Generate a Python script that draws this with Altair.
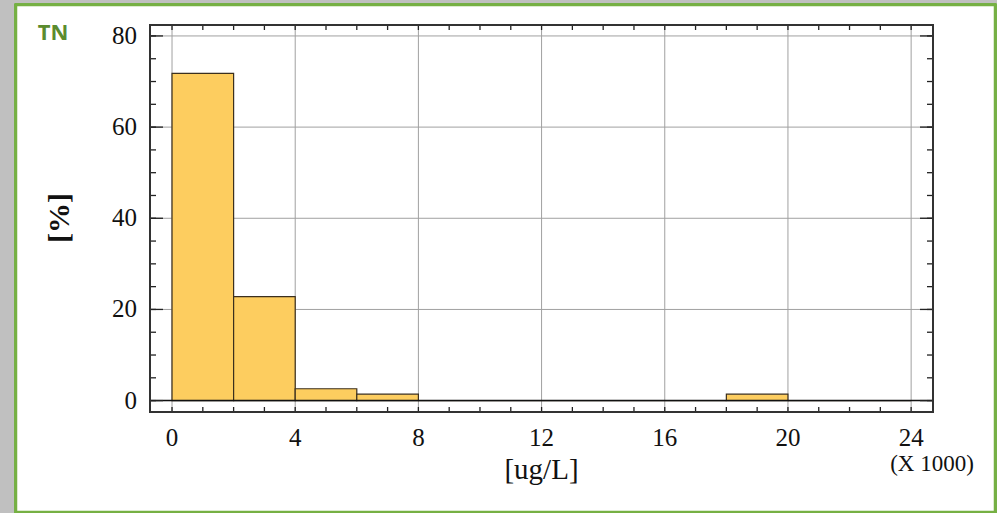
import altair as alt
import pandas as pd

# Histogram of TN concentration (bins of 2000 ug/L, axis in thousands)
bin_start = [0, 2, 4, 6, 8, 10, 12, 14, 16, 18, 20, 22]
bin_end = [2, 4, 6, 8, 10, 12, 14, 16, 18, 20, 22, 24]
percent = [71.8, 22.8, 2.6, 1.4, 0, 0, 0, 0, 0, 1.4, 0, 0]

x_ticks = [0, 4, 8, 12, 16, 20, 24]
y_ticks = [0, 20, 40, 60, 80]
x_minor = list(range(0, 25))
y_minor = list(range(0, 81, 5))

W, H = 783, 387
SERIF = "Liberation Serif"

bars = pd.DataFrame({"start": bin_start, "end": bin_end, "pct": percent})
xgrid = pd.DataFrame({"v": x_ticks, "label": [str(v) for v in x_ticks]})
ygrid = pd.DataFrame({"v": y_ticks, "label": [str(v) for v in y_ticks]})
xminor = pd.DataFrame({"v": x_minor})
yminor = pd.DataFrame({"v": y_minor})

xs = alt.Scale(domain=[-0.715, 24.71], nice=False, zero=False)
ys = alt.Scale(domain=[-2.5, 82.4], nice=False, zero=False)

# white panel with green border
panel = alt.Chart(bars).mark_rect(fill="white", stroke="#76b043", strokeWidth=2.5).encode(
    x=alt.value(-134), x2=alt.value(845), y=alt.value(-20), y2=alt.value(487)
)

vgrid = alt.Chart(xgrid).mark_rule(color="#a0a0a0", strokeWidth=1).encode(
    x=alt.X("v:Q", scale=xs, axis=None)
)
hgrid = alt.Chart(ygrid).mark_rule(color="#a0a0a0", strokeWidth=1).encode(
    y=alt.Y("v:Q", scale=ys, axis=None)
)

hist = alt.Chart(bars).mark_rect(fill="#fdcd5f", stroke="#3b2f1e", strokeWidth=1.2).encode(
    x=alt.X("start:Q", scale=xs, axis=None),
    x2="end:Q",
    y=alt.Y("pct:Q", scale=ys, axis=None),
    y2=alt.datum(0),
)

zero_line = alt.Chart(pd.DataFrame({"v": [0]})).mark_rule(color="#111", strokeWidth=1.5).encode(
    y=alt.Y("v:Q", scale=ys, axis=None)
)

# inward tick marks on all four sides
tick_col = "#222"
xt_bottom = alt.Chart(xminor).mark_rule(color=tick_col, strokeWidth=1.3).encode(
    x=alt.X("v:Q", scale=xs, axis=None), y=alt.value(H - 5), y2=alt.value(H)
)
xt_top = alt.Chart(xminor).mark_rule(color=tick_col, strokeWidth=1.3).encode(
    x=alt.X("v:Q", scale=xs, axis=None), y=alt.value(0), y2=alt.value(5)
)
yt_left = alt.Chart(yminor).mark_rule(color=tick_col, strokeWidth=1.3).encode(
    y=alt.Y("v:Q", scale=ys, axis=None), x=alt.value(0), x2=alt.value(6)
)
yt_right = alt.Chart(yminor).mark_rule(color=tick_col, strokeWidth=1.3).encode(
    y=alt.Y("v:Q", scale=ys, axis=None), x=alt.value(W - 6), x2=alt.value(W)
)
yt_left_major = alt.Chart(ygrid).mark_rule(color=tick_col, strokeWidth=1.3).encode(
    y=alt.Y("v:Q", scale=ys, axis=None), x=alt.value(0), x2=alt.value(13)
)
yt_right_major = alt.Chart(ygrid).mark_rule(color=tick_col, strokeWidth=1.3).encode(
    y=alt.Y("v:Q", scale=ys, axis=None), x=alt.value(W - 13), x2=alt.value(W)
)

frame = alt.Chart(bars).mark_rect(fill=None, stroke="#333", strokeWidth=1.5).encode(
    x=alt.value(0), x2=alt.value(W), y=alt.value(0), y2=alt.value(H)
)

# tick labels
x_labels = alt.Chart(xgrid).mark_text(font=SERIF, fontSize=25, color="#111",
                                      baseline="middle", align="center").encode(
    x=alt.X("v:Q", scale=xs, axis=None), y=alt.value(H + 26), text="label:N"
)
y_labels = alt.Chart(ygrid).mark_text(font=SERIF, fontSize=25, color="#111",
                                      baseline="middle", align="right").encode(
    y=alt.Y("v:Q", scale=ys, axis=None), x=alt.value(-13), text="label:N"
)

one = pd.DataFrame({"t": [0]})
x_title = alt.Chart(one).mark_text(text="[ug/L]", font=SERIF, fontSize=29, color="#111",
                                   baseline="middle").encode(
    x=alt.value(W / 2), y=alt.value(445)
)
x_scale_note = alt.Chart(one).mark_text(text="(X 1000)", font=SERIF, fontSize=23, color="#111",
                                        baseline="middle").encode(
    x=alt.value(782), y=alt.value(439)
)
y_title = alt.Chart(one).mark_text(text="[%]", font=SERIF, fontSize=30, fontWeight="bold",
                                   color="#111", angle=270, baseline="middle").encode(
    x=alt.value(-90), y=alt.value(193)
)
tag = alt.Chart(one).mark_text(text="TN", font="Open Sans", fontSize=22, fontWeight="bold",
                               color="#5b8c2e", baseline="middle").encode(
    x=alt.value(-97), y=alt.value(8)
)

chart = alt.layer(
    panel, vgrid, hgrid, hist, zero_line,
    xt_bottom, xt_top, yt_left, yt_right, yt_left_major, yt_right_major,
    frame, x_labels, y_labels, x_title, x_scale_note, y_title, tag,
).properties(
    width=W, height=H,
    background="#c0c0c0",
    padding={"left": 150, "top": 25, "right": 64, "bottom": 101},
    autosize=alt.AutoSizeParams(type="none"),
).configure_view(stroke=None)

chart.save("out.html", embed_options={"renderer": "svg", "actions": False})
